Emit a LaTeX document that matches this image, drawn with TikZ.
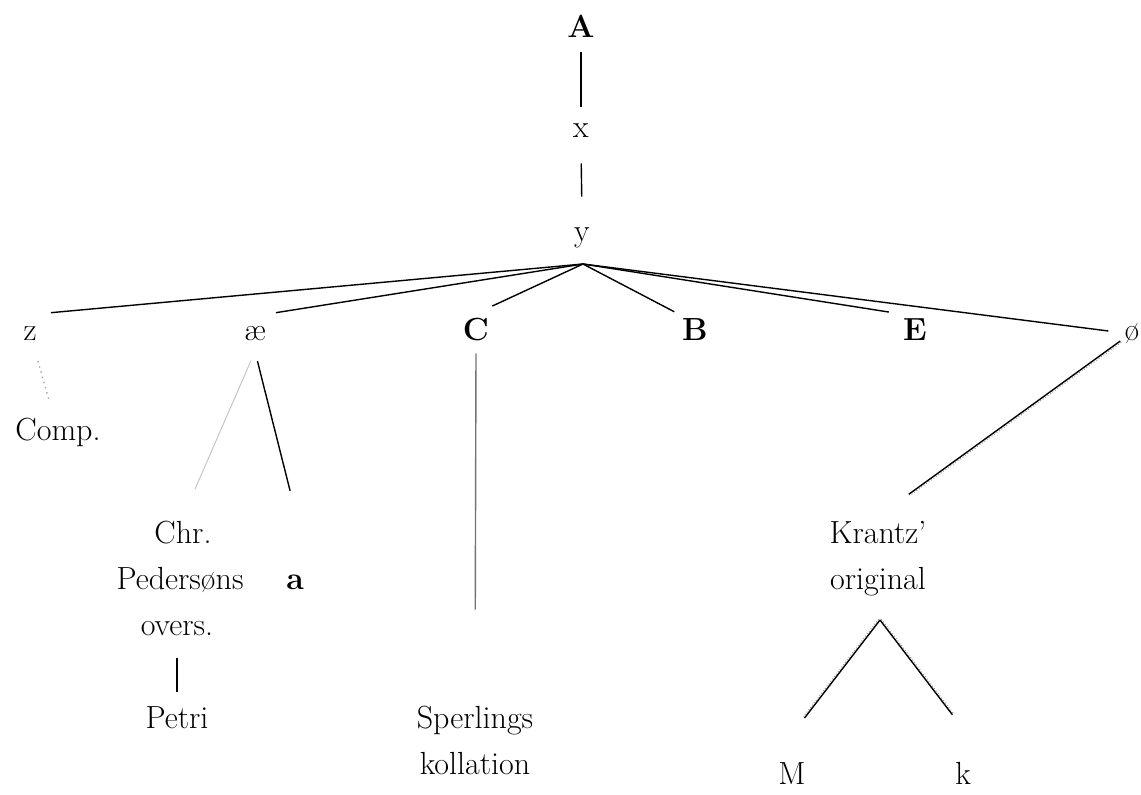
\documentclass[tikz,border=0pt]{standalone}
\usepackage{fontspec}
\tikzset{
  lbl/.style={anchor=base, inner sep=2pt, text height=11pt, text depth=3.5pt,
    font=\fontsize{16}{19}\selectfont},
  lead/.style={line width=.7pt},
  faint/.style={line width=.5pt, gray!45},
  kdots/.style={line width=.5pt, densely dotted, gray!80},
}
\begin{document}
\begin{tikzpicture}[x=0.5pt,y=-0.5pt]
	\useasboundingbox (0,0) rectangle (1141,794);
	% top
	\node[lbl] (A) at (581,37) {\textbf{A}};
	\node[lbl] (x) at (581,137) {x};
	\node[lbl] (y) at (582,241) {y};
	\coordinate (fan) at (583,264);
	\draw[lead, shorten <=2pt, shorten >=2pt] (A.south) -- (x.north);
	\draw[lead, shorten <=7.5pt, shorten >=9pt] (x.south) -- (y.north);
	
	% first row
	\node[lbl] (z) at (30,340) {z};
	\node[lbl] (ae) at (255,340) {æ};
	\node[lbl] (C) at (476,340) {\textbf{C}};
	\node[lbl] (B) at (695,340) {\textbf{B}};
	\node[lbl] (E) at (915,340) {\textbf{E}};
	\node[lbl] (oe) at (1132,340) {ø};
	\draw[lead, shorten >=5pt] (fan) -- (z.north east);
	\draw[lead, shorten >=3pt] (fan) -- (ae.north east);
	\draw[lead, shorten >=9pt] (fan) -- (C.north);
	\draw[lead, shorten >=2pt] (fan) -- (B.north west);
	\draw[lead, shorten >=5pt] (fan) -- (E.north west);
	\draw[lead, shorten >=6pt] (fan) -- (oe.west);
	
	% z
	\node[lbl] (comp) at (58,440) {Comp.};
	\draw[dotted, line width=.7pt, gray!70, shorten <=5pt, shorten >=7.5pt] (z) -- (comp);
	
	% ae
	\node[lbl] (chr1) at (183,543) {Chr.};
	\node[lbl] (chr2) at (180,589) {Pedersøns};
	\node[lbl] (chr3) at (177,635) {overs.};
	\node[lbl] (a) at (295,589) {\textbf{a}};
	\node[lbl] (petri) at (177,728) {Petri};
	\draw[faint, shorten <=5pt, shorten >=15pt] (ae.south) -- (chr1.north);
	\draw[lead, shorten <=5pt, shorten >=37pt] (ae.south) -- (a.north east);
	\draw[lead, shorten <=6pt, shorten >=5pt] (chr3.south) -- (petri.north);
	
	% C
	\node[lbl] (sper1) at (475,728) {Sperlings};
	\node[lbl] (sper2) at (475,774) {kollation};
	\draw[line width=.7pt, black!55, shorten <=1pt, shorten >=46pt] (C.south) -- (sper1.north);
	
	% oe
	\node[lbl] (kr1) at (878,543) {Krantz’};
	\node[lbl] (kr2) at (878,589) {original};
	\coordinate (kfork) at (880,620);
	\node[lbl] (M) at (792,784) {M};
	\node[lbl] (k) at (963,784) {k};
	\draw[lead, shorten >=19pt] (oe) -- (kr1.north);
		\draw[kdots, shorten >=19pt, transform canvas={shift={(0.5pt,-0.65pt)}}] (oe) -- (kr1.north);
	\draw[lead, shorten >=25pt] (kfork) -- (M.north west);
		\draw[kdots, shorten >=25pt, transform canvas={shift={(-0.65pt,0.5pt)}}] (kfork) -- (M.north west);
	\draw[lead, shorten >=27pt] (kfork) -- ([xshift=5pt]k.north east);
		\draw[kdots, shorten >=27pt, transform canvas={shift={(0.65pt,0.45pt)}}] (kfork) -- ([xshift=5pt]k.north east);
\end{tikzpicture}
\end{document}
